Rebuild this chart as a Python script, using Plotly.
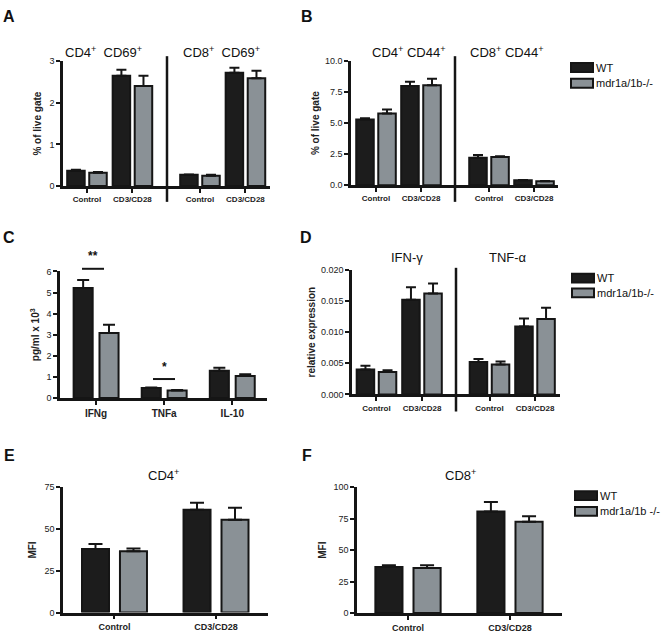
import plotly.graph_objects as go

W, H = 662, 637
FONT = "Arial, Liberation Sans, sans-serif"
WT_FILL = "#1c1c1c"
KO_FILL = "#8a9196"
EDGE = "#151515"

# ---------------- data ----------------
grp = ["Control", "CD3/CD28"]

A_cd4_wt = [0.37, 2.65];   A_cd4_wt_err = [0.02, 0.14]
A_cd4_ko = [0.32, 2.40];   A_cd4_ko_err = [0.02, 0.25]
A_cd8_wt = [0.27, 2.72];   A_cd8_wt_err = [0.01, 0.12]
A_cd8_ko = [0.25, 2.59];   A_cd8_ko_err = [0.02, 0.18]

B_cd4_wt = [5.30, 8.00];   B_cd4_wt_err = [0.10, 0.33]
B_cd4_ko = [5.77, 8.05];   B_cd4_ko_err = [0.32, 0.52]
B_cd8_wt = [2.20, 0.39];   B_cd8_wt_err = [0.22, 0.02]
B_cd8_ko = [2.26, 0.31];   B_cd8_ko_err = [0.06, 0.02]

C_cats = ["IFNg", "TNFa", "IL-10"]
C_wt = [5.21, 0.48, 1.29]; C_wt_err = [0.39, 0.02, 0.15]
C_ko = [3.08, 0.36, 1.05]; C_ko_err = [0.39, 0.02, 0.08]

D_ifn_wt = [0.0040, 0.0152]; D_ifn_wt_err = [0.0006, 0.0020]
D_ifn_ko = [0.0036, 0.0162]; D_ifn_ko_err = [0.0003, 0.0016]
D_tnf_wt = [0.0052, 0.0109]; D_tnf_wt_err = [0.0005, 0.0013]
D_tnf_ko = [0.0048, 0.0121]; D_tnf_ko_err = [0.0005, 0.0018]

E_wt = [38.1, 61.5]; E_wt_err = [2.9, 4.3]
E_ko = [36.7, 55.6]; E_ko_err = [1.6, 7.1]
F_wt = [36.6, 80.7]; F_wt_err = [1.3, 7.6]
F_ko = [35.8, 72.6]; F_ko_err = [2.1, 4.4]

series_names = ["WT", "mdr1a/1b-/-"]


def fx(px):
    return px / W


def fy(py):
    return 1 - py / H


fig = go.Figure()


def add_pair(x, wt, wt_err, ko, ko_err, xa, ya, w, g, cap):
    for vals, err, fill, name, off in [
        (wt, wt_err, WT_FILL, series_names[0], -(w + g / 2)),
        (ko, ko_err, KO_FILL, series_names[1], g / 2),
    ]:
        fig.add_trace(go.Bar(
            x=x, y=vals, name=name, xaxis=xa, yaxis=ya,
            width=w, offset=off, showlegend=False,
            marker=dict(color=fill, line=dict(color=EDGE, width=2)),
            error_y=dict(type="data", symmetric=False, array=err,
                         arrayminus=[0] * len(err), color=EDGE,
                         thickness=2, width=cap),
        ))


# A
add_pair(grp, A_cd4_wt, A_cd4_wt_err, A_cd4_ko, A_cd4_ko_err, "x", "y", 0.385, 0.1, 5)
add_pair(grp, A_cd8_wt, A_cd8_wt_err, A_cd8_ko, A_cd8_ko_err, "x2", "y", 0.385, 0.1, 5)
# B
add_pair(grp, B_cd4_wt, B_cd4_wt_err, B_cd4_ko, B_cd4_ko_err, "x3", "y2", 0.39, 0.1, 5)
add_pair(grp, B_cd8_wt, B_cd8_wt_err, B_cd8_ko, B_cd8_ko_err, "x4", "y2", 0.39, 0.1, 5)
# C
add_pair(C_cats, C_wt, C_wt_err, C_ko, C_ko_err, "x5", "y3", 0.28, 0.1, 6)
# D
add_pair(grp, D_ifn_wt, D_ifn_wt_err, D_ifn_ko, D_ifn_ko_err, "x6", "y4", 0.385, 0.1, 5)
add_pair(grp, D_tnf_wt, D_tnf_wt_err, D_tnf_ko, D_tnf_ko_err, "x7", "y4", 0.385, 0.1, 5)
# E, F
add_pair(grp, E_wt, E_wt_err, E_ko, E_ko_err, "x8", "y5", 0.266, 0.108, 7)
add_pair(grp, F_wt, F_wt_err, F_ko, F_ko_err, "x9", "y6", 0.266, 0.108, 7)


def xax(p0, p1, rng, anchor, size=8):
    return dict(domain=[fx(p0), fx(p1)], range=rng, type="category", anchor=anchor,
                showline=True, linecolor=EDGE, linewidth=2.5, ticks="outside",
                ticklen=4, tickwidth=2, tickcolor=EDGE, showgrid=False, zeroline=False,
                tickfont=dict(size=size, family=FONT, color="#222", weight="bold"))


def yax(p_bottom, p_top, rng, dtick, fmt, anchor, title, standoff):
    return dict(domain=[fy(p_bottom), fy(p_top)], range=rng, anchor=anchor,
                showline=True, linecolor=EDGE, linewidth=2.5, ticks="outside",
                ticklen=4, tickwidth=2, tickcolor=EDGE, showgrid=False, zeroline=False,
                dtick=dtick, tick0=0, tickformat=fmt,
                tickfont=dict(size=9, family=FONT, color="#222"),
                title=dict(text=title, standoff=standoff,
                           font=dict(size=10, family=FONT, color="#222", weight="bold")))


fig.update_layout(
    width=W, height=H, margin=dict(l=0, r=0, t=0, b=0),
    paper_bgcolor="white", plot_bgcolor="white", barmode="overlay",
    showlegend=False,
    xaxis=xax(63, 167, [-0.527, 1.76], "y"),
    xaxis2=xax(167, 270, [-0.725, 1.54], "y"),
    yaxis=yax(184, 57, [0, 3], 1, "d", "x", "% of live gate", 6),
    xaxis3=xax(351, 455, [-0.556, 1.756], "y2"),
    xaxis4=xax(455, 558, [-0.756, 1.533], "y2"),
    yaxis2=yax(183, 57, [0, 10], 2.5, ".1f", "x3", "% of live gate", 4),
    xaxis5=xax(60, 267, [-0.53, 2.51], "y3", size=10),
    yaxis3=yax(399.3, 270.7, [0, 6], 1, "d", "x5", "pg/ml x 10<sup>3</sup>", 5),
    xaxis6=xax(352, 456, [-0.538, 1.747], "y4"),
    xaxis7=xax(456, 560, [-0.736, 1.549], "y4"),
    yaxis4=yax(395.7, 269, [0, 0.02], 0.005, ".3f", "x6", "relative expression", 4),
    xaxis8=xax(63, 268, [-0.507, 1.512], "y5", size=9),
    yaxis5=yax(617.3, 490, [0, 75], 25, "d", "x8", "MFI", 6),
    xaxis9=xax(357, 562, [-0.5, 1.51], "y6", size=9),
    yaxis6=yax(617.7, 490, [0, 100], 25, "d", "x9", "MFI", 5),
)

ann = []
shapes = []


def text(px, py, s, size=12, bold=False, xanchor="center"):
    ann.append(dict(x=fx(px), y=fy(py), xref="paper", yref="paper",
                    text=f"<b>{s}</b>" if bold else s,
                    showarrow=False, xanchor=xanchor, yanchor="middle",
                    font=dict(size=size, family=FONT, color="#111")))


# panel letters
for lx, ly, L in [(9, 12, "A"), (307, 12, "B"), (9, 236, "C"), (306, 236, "D"),
                  (9, 458, "E"), (307, 458, "F")]:
    text(lx, ly, L, size=16, bold=True)

# sub-panel titles
text(103, 48, "CD4<sup>+</sup>  CD69<sup>+</sup>", size=13)
text(221, 48, "CD8<sup>+</sup>  CD69<sup>+</sup>", size=13)
text(409, 48, "CD4<sup>+</sup> CD44<sup>+</sup>", size=13)
text(507, 48, "CD8<sup>+</sup> CD44<sup>+</sup>", size=13)
text(407, 257, "IFN-γ", size=13)
text(508, 257, "TNF-α", size=13)
text(163, 478, "CD4<sup>+</sup>", size=13)
text(460, 478, "CD8<sup>+</sup>", size=13)

# dividers
for dx, y0, y1 in [(167, 52, 200), (455, 52, 200), (456, 267, 413)]:
    shapes.append(dict(type="line", xref="paper", yref="paper", x0=fx(dx), x1=fx(dx),
                       y0=fy(y0), y1=fy(y1), line=dict(color=EDGE, width=2.5)))

# significance
shapes.append(dict(type="line", xref="paper", yref="paper", x0=fx(82), x1=fx(104),
                   y0=fy(268), y1=fy(268), line=dict(color=EDGE, width=2)))
text(93, 255, "**", size=12, bold=True)
shapes.append(dict(type="line", xref="paper", yref="paper", x0=fx(153), x1=fx(175),
                   y0=fy(380), y1=fy(380), line=dict(color=EDGE, width=2)))
text(164, 368, "*", size=12, bold=True)


# legends
def legend(x0, yt1, yt2, ko_label):
    for (yt, fill, lab) in [(yt1, WT_FILL, "WT"), (yt2, KO_FILL, ko_label)]:
        shapes.append(dict(type="rect", xref="paper", yref="paper",
                           x0=fx(x0), x1=fx(x0 + 22), y0=fy(yt), y1=fy(yt + 9),
                           fillcolor=fill, line=dict(color=EDGE, width=2)))
        text(x0 + 23, yt + 4.5, lab, size=11, xanchor="left")


legend(571, 59, 75, series_names[1])
legend(572, 273, 288, series_names[1])
legend(575, 494, 510, "mdr1a/1b -/-")

fig.update_layout(annotations=ann, shapes=shapes)
fig.write_html("out.html", config={"displayModeBar": False},
               post_script="document.body.style.margin='0';document.body.style.overflow='hidden';")
